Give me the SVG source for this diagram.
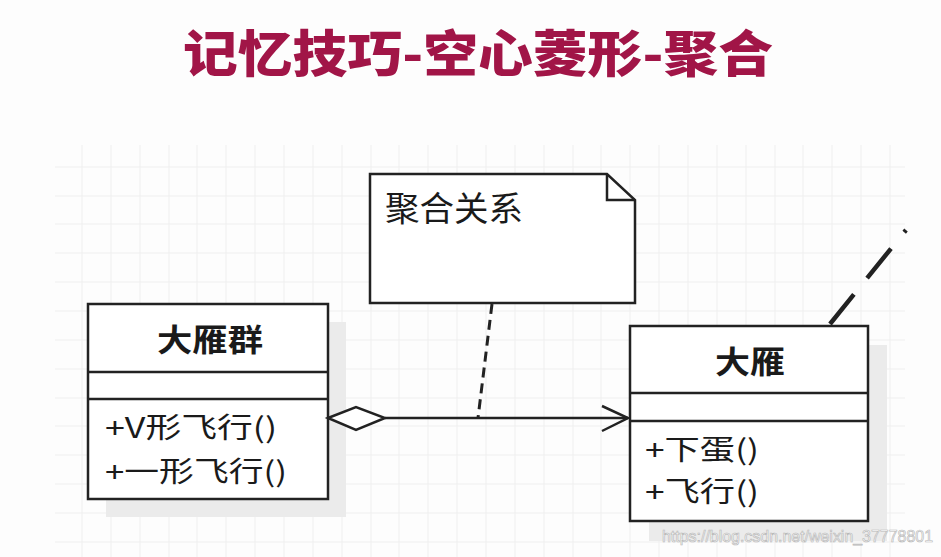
<svg xmlns="http://www.w3.org/2000/svg" width="941" height="557" viewBox="0 0 941 557">
<style>
.bg{fill:#fdfdfd}
.grid line{stroke:#efefef;stroke-width:1}
.box{fill:#ffffff;stroke:#222222;stroke-width:2.5}
.div{stroke:#222222;stroke-width:2.5}
.shadow{fill:#ebebeb}
.cls{font-family:"Noto Sans CJK SC","Noto Sans",sans-serif;fill:#1a1a1a}
.name{font-size:31px;font-weight:bold}
.meth{font-size:28px}
.edge{fill:none;stroke:#222222;stroke-width:2.5}
.title{font-family:"Noto Sans CJK SC","Noto Sans",sans-serif;font-size:50px;font-weight:900;fill:#a11547}
.wm{font-family:"Liberation Sans",Arial,sans-serif;font-size:17px;fill:#ffffff;stroke:#b8b8b8;stroke-width:0.7}
</style>
<rect class="bg" x="0" y="0" width="941" height="557"/>
<text class="title" x="183" y="72" textLength="590" lengthAdjust="spacingAndGlyphs">记忆技巧-空心菱形-聚合</text>
<g class="grid">
<line x1="82" y1="145" x2="82" y2="557"/><line x1="111" y1="145" x2="111" y2="557"/><line x1="140" y1="145" x2="140" y2="557"/><line x1="169" y1="145" x2="169" y2="557"/><line x1="197" y1="145" x2="197" y2="557"/><line x1="226" y1="145" x2="226" y2="557"/><line x1="255" y1="145" x2="255" y2="557"/><line x1="284" y1="145" x2="284" y2="557"/><line x1="313" y1="145" x2="313" y2="557"/><line x1="342" y1="145" x2="342" y2="557"/><line x1="371" y1="145" x2="371" y2="557"/><line x1="399" y1="145" x2="399" y2="557"/><line x1="428" y1="145" x2="428" y2="557"/><line x1="457" y1="145" x2="457" y2="557"/><line x1="486" y1="145" x2="486" y2="557"/><line x1="515" y1="145" x2="515" y2="557"/><line x1="544" y1="145" x2="544" y2="557"/><line x1="573" y1="145" x2="573" y2="557"/><line x1="601" y1="145" x2="601" y2="557"/><line x1="630" y1="145" x2="630" y2="557"/><line x1="659" y1="145" x2="659" y2="557"/><line x1="688" y1="145" x2="688" y2="557"/><line x1="717" y1="145" x2="717" y2="557"/><line x1="746" y1="145" x2="746" y2="557"/><line x1="775" y1="145" x2="775" y2="557"/><line x1="803" y1="145" x2="803" y2="557"/><line x1="832" y1="145" x2="832" y2="557"/><line x1="861" y1="145" x2="861" y2="557"/><line x1="890" y1="145" x2="890" y2="557"/>
<line x1="55" y1="167" x2="905" y2="167"/><line x1="55" y1="196" x2="905" y2="196"/><line x1="55" y1="224" x2="905" y2="224"/><line x1="55" y1="253" x2="905" y2="253"/><line x1="55" y1="282" x2="905" y2="282"/><line x1="55" y1="311" x2="905" y2="311"/><line x1="55" y1="340" x2="905" y2="340"/><line x1="55" y1="369" x2="905" y2="369"/><line x1="55" y1="398" x2="905" y2="398"/><line x1="55" y1="426" x2="905" y2="426"/><line x1="55" y1="455" x2="905" y2="455"/><line x1="55" y1="484" x2="905" y2="484"/><line x1="55" y1="513" x2="905" y2="513"/><line x1="55" y1="542" x2="905" y2="542"/>
</g>
<g id="note">
<path class="box" d="M370,174 H607 L635,200 V303 H370 Z"/>
<path class="edge" d="M607,174 V200 H635"/>
<text class="cls" x="385" y="221" font-size="34" textLength="138" lengthAdjust="spacingAndGlyphs">聚合关系</text>
</g>
<g id="flock">
<rect class="shadow" x="106" y="322" width="240" height="195"/>
<rect class="box" x="88" y="304" width="240" height="195"/>
<line class="div" x1="88" y1="372" x2="328" y2="372"/>
<line class="div" x1="88" y1="399" x2="328" y2="399"/>
<text class="cls name" x="157" y="351" textLength="106" lengthAdjust="spacingAndGlyphs">大雁群</text>
<text class="cls meth" x="105" y="438" textLength="172" lengthAdjust="spacingAndGlyphs">+V形飞行()</text>
<text class="cls meth" x="105" y="482" textLength="182" lengthAdjust="spacingAndGlyphs">+一形飞行()</text>
</g>
<g id="goose">
<rect class="shadow" x="649" y="345" width="238" height="196"/>
<rect class="box" x="630" y="326" width="238" height="195"/>
<line class="div" x1="630" y1="393" x2="868" y2="393"/>
<line class="div" x1="630" y1="421" x2="868" y2="421"/>
<text class="cls name" x="715" y="373" textLength="70" lengthAdjust="spacingAndGlyphs">大雁</text>
<text class="cls meth" x="645" y="460" textLength="114" lengthAdjust="spacingAndGlyphs">+下蛋()</text>
<text class="cls meth" x="645" y="502" textLength="114" lengthAdjust="spacingAndGlyphs">+飞行()</text>
</g>
<g id="connectors">
<line class="edge" x1="385" y1="418" x2="628" y2="418"/>
<path d="M328,418 L356,407 L385,418 L356,430 Z" fill="#ffffff" stroke="#222222" stroke-width="2.5"/>
<path class="edge" d="M602,406 L628,418 L602,431"/>
<line x1="492" y1="304" x2="478" y2="418" stroke="#222222" stroke-width="3" stroke-dasharray="10 6"/>
<line x1="830" y1="324" x2="906" y2="230" stroke="#222222" stroke-width="4.5" stroke-dasharray="38 21"/>
</g>
<text class="wm" x="662" y="542" textLength="271" lengthAdjust="spacingAndGlyphs">https://blog.csdn.net/weixin_37778801</text>
</svg>
